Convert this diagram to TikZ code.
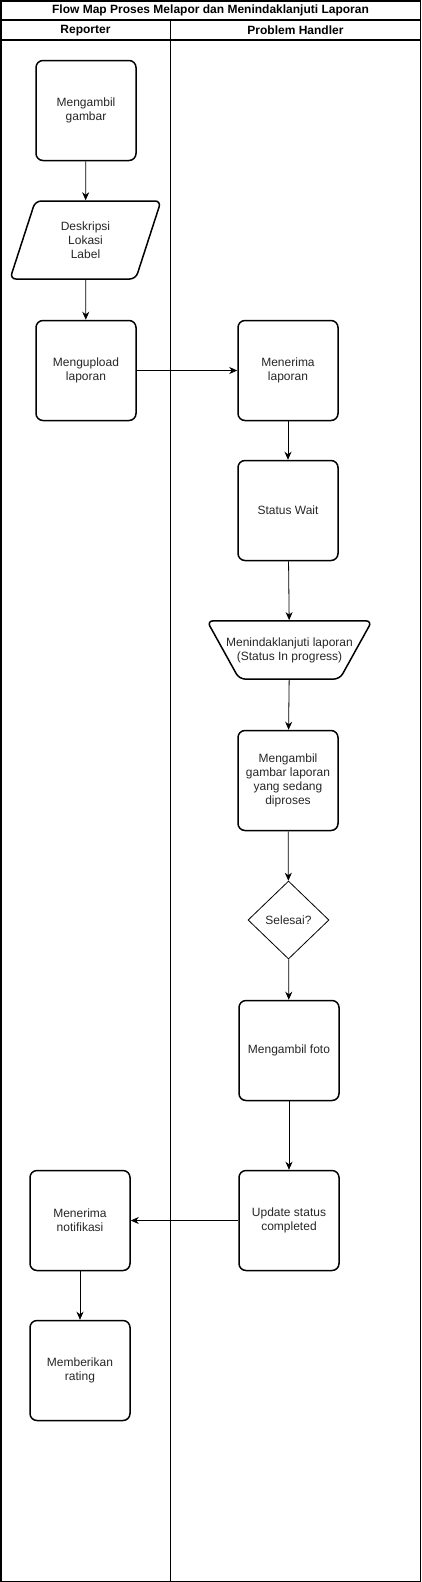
\documentclass[tikz,border=0pt]{standalone}
\usepackage{fontspec}
\setmainfont{Liberation Sans}
\usetikzlibrary{arrows.meta,shapes.geometric}

\begin{document}
\begin{tikzpicture}[x=1pt,y=-1pt,
        font=\fontsize{12}{14}\selectfont,
        proses/.style={draw,line width=1.5pt,rounded corners=7pt,minimum width=100pt,minimum height=100pt,align=center,inner sep=0pt,text=black!85},
        miring/.style={draw,line width=1.5pt,rounded corners=6pt,trapezium,trapezium stretches body,align=center,inner xsep=0pt,text=black!85},
        keputusan/.style={draw,line width=0.8pt,diamond,minimum width=81pt,minimum height=78pt,inner sep=0pt,text=black!85},
        judul/.style={font=\fontsize{12}{14}\selectfont\bfseries,inner sep=0pt},
        panah/.style={-{Stealth[length=8pt,width=7pt,inset=2.5pt]},line width=0.8pt}
    ]
        \useasboundingbox (0,0) rectangle (421,1582);

        %frame of the flow map with its two lanes
        \draw[line width=1.5pt] (0.75,0.75) rectangle (420.25,1581.25);
        \draw[line width=1.5pt] (0,20) -- (421,20);
        \draw[line width=1.5pt] (0,40) -- (421,40);
        \draw[line width=1.5pt] (170.5,20) -- (170.5,1582);
        \node[judul] (judulmap) at (210.5,10.5) {Flow Map Proses Melapor dan Menindaklanjuti Laporan};
        \node[judul] (lanereporter) at (85.5,30.5) {Reporter};
        \node[judul] (lanehandler) at (295.5,30.5) {Problem Handler};

        %steps of the reporter
        \node[proses] (ambil) at (86,110.5) {Mengambil\\gambar};
        \node[miring,trapezium left angle=72,trapezium right angle=108,inner ysep=20.5pt,minimum width=151pt,minimum height=78pt] (deskripsi) at (85.5,240) {Deskripsi\\Lokasi\\Label};
        \node[proses] (upload) at (86,370.5) {Mengupload\\laporan};
        \node[proses] (notif) at (80,1220.5) {Menerima\\notifikasi};
        \node[proses] (rating) at (80,1370.5) {Memberikan\\rating};

        %steps of the problem handler
        \node[proses] (terima) at (288,370.5) {Menerima\\laporan};
        \node[proses] (wait) at (288,510.5) {Status Wait};
        \node[miring,trapezium left angle=119,trapezium right angle=119,inner ysep=16.5pt,minimum width=165pt,minimum height=58pt] (tindak) at (289.5,650) {\makebox[0pt]{Menindaklanjuti laporan}\\\makebox[0pt]{(Status In progress)}};
        \node[proses] (gambarlap) at (288,780.5) {Mengambil\\gambar laporan\\yang sedang\\diproses};
        \node[keputusan] (selesai) at (288.5,920) {Selesai?};
        \node[proses] (foto) at (289,1050.5) {Mengambil foto};
        \node[proses] (update) at (289,1220.5) {Update status\\completed};

        %connectors
        \draw[panah] (ambil) -- (deskripsi);
        \draw[panah] (deskripsi) -- (upload);
        \draw[panah] (upload) -- (terima);
        \draw[panah] (terima) -- (wait);
        \draw[panah] (wait) -- (tindak);
        \draw[panah] (tindak) -- (gambarlap);
        \draw[panah] (gambarlap) -- (selesai);
        \draw[panah] (selesai) -- (foto);
        \draw[panah] (foto) -- (update);
        \draw[panah] (update) -- (notif);
        \draw[panah] (notif) -- (rating);
\end{tikzpicture}
\end{document}
